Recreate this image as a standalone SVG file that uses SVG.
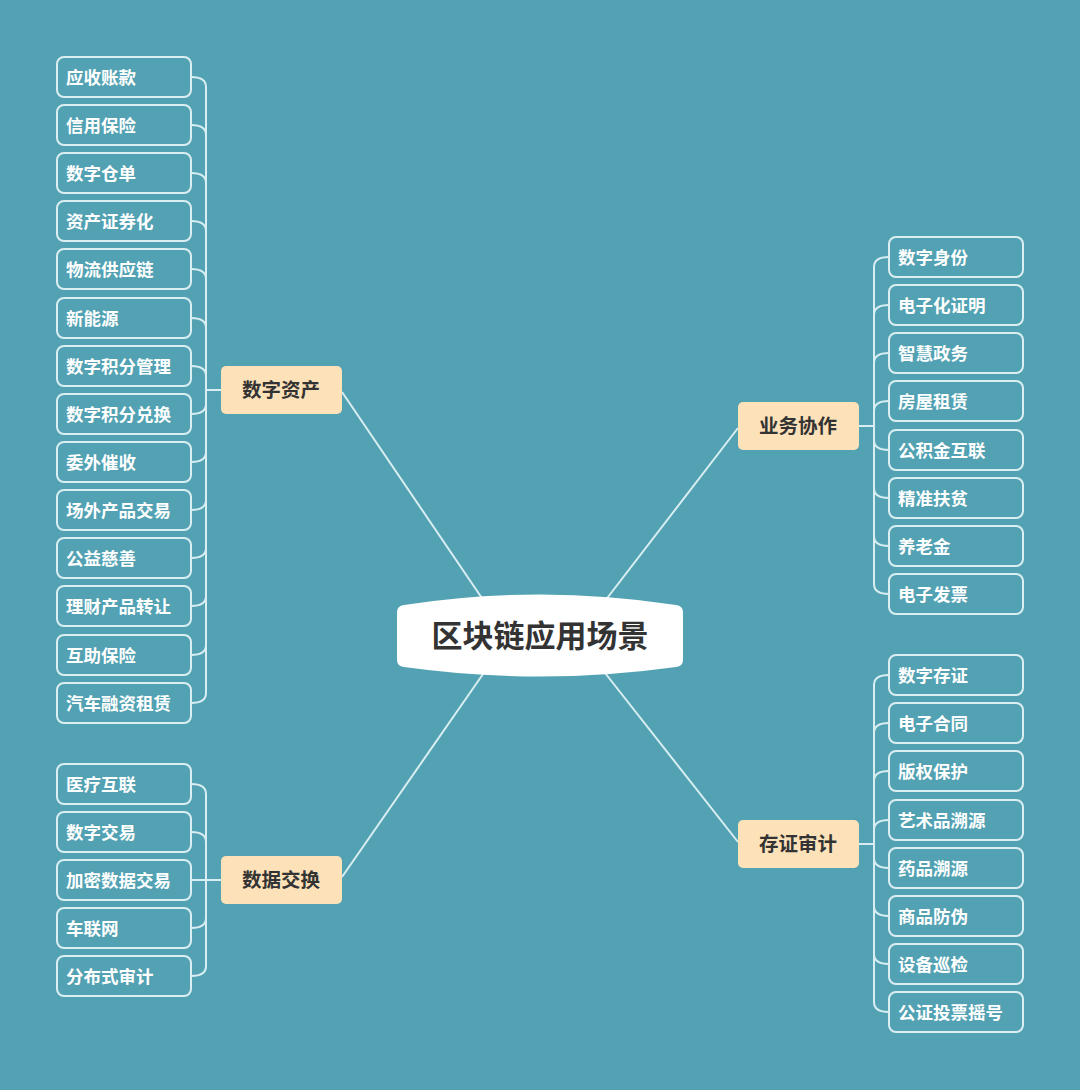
<svg xmlns="http://www.w3.org/2000/svg" width="1080" height="1090" viewBox="0 0 1080 1090">
<style>
.leaf rect{fill:#52a2b3;stroke:#dbeff3;stroke-width:2}
.leaf text{fill:#ffffff;font-family:"Noto Sans CJK SC","Noto Sans",sans-serif;font-weight:bold;font-size:17.5px}
.branch rect{fill:#fde2b9}
.branch text{fill:#333333;font-family:"Noto Sans CJK SC","Noto Sans",sans-serif;font-weight:bold;font-size:19.5px;text-anchor:middle}
.conn path,.conn line{fill:none;stroke:#d8eef2;stroke-width:2}
</style>
<rect x="0" y="0" width="1080" height="1090" fill="#52a2b3"/>
<g id="connectors" class="conn">
<line x1="342" y1="392" x2="490" y2="610"/>
<line x1="738" y1="428" x2="598" y2="610"/>
<line x1="342" y1="877" x2="490" y2="664"/>
<line x1="738" y1="842" x2="598" y2="664"/>
<!-- left top bracket -->
<path d="M191,77 Q206,77 206,87 V693 Q206,703 191,703"/>
<path d="M191,125 Q206,125 206,135"/>
<path d="M191,173 Q206,173 206,183"/>
<path d="M191,221 Q206,221 206,231"/>
<path d="M191,269 Q206,269 206,279"/>
<path d="M191,318 Q206,318 206,328"/>
<path d="M191,366 Q206,366 206,376"/>
<path d="M191,414 Q206,414 206,404"/>
<path d="M191,462 Q206,462 206,452"/>
<path d="M191,510 Q206,510 206,500"/>
<path d="M191,558 Q206,558 206,548"/>
<path d="M191,606 Q206,606 206,596"/>
<path d="M191,655 Q206,655 206,645"/>
<path d="M206,390 H221"/>
<!-- left bottom bracket -->
<path d="M191,784 Q206,784 206,794 V966 Q206,976 191,976"/>
<path d="M191,832 Q206,832 206,842"/>
<path d="M191,880 H221"/>
<path d="M191,928 Q206,928 206,918"/>
<!-- right top bracket -->
<path d="M889,257 Q874,257 874,267 V584 Q874,594 889,594"/>
<path d="M889,305 Q874,305 874,315"/>
<path d="M889,353 Q874,353 874,363"/>
<path d="M889,401 Q874,401 874,411"/>
<path d="M889,450 Q874,450 874,440"/>
<path d="M889,498 Q874,498 874,488"/>
<path d="M889,546 Q874,546 874,536"/>
<path d="M874,426 H858"/>
<!-- right bottom bracket -->
<path d="M889,675 Q874,675 874,685 V1002 Q874,1012 889,1012"/>
<path d="M889,723 Q874,723 874,733"/>
<path d="M889,771 Q874,771 874,781"/>
<path d="M889,820 Q874,820 874,830"/>
<path d="M889,868 Q874,868 874,858"/>
<path d="M889,916 Q874,916 874,906"/>
<path d="M889,964 Q874,964 874,954"/>
<path d="M874,844 H858"/>
</g>
<g id="center">
<path d="M397,612 Q397,606 404,605 Q540,584 676,605 Q683,606 683,612 V660 Q683,666 676,667 Q540,686 404,667 Q397,666 397,660 Z" fill="#ffffff"/>
<text x="540" y="647" fill="#333333" font-family="'Noto Sans CJK SC','Noto Sans',sans-serif" font-weight="bold" font-size="31" text-anchor="middle">区块链应用场景</text>
</g>
<g id="b-shuzizichan" class="branch"><rect x="221" y="366" width="121" height="48" rx="5"/><text x="281" y="397">数字资产</text></g>
<g id="b-shujujiaohuan" class="branch"><rect x="221" y="856" width="121" height="48" rx="5"/><text x="281" y="887">数据交换</text></g>
<g id="b-yewuxiezuo" class="branch"><rect x="738" y="402" width="121" height="48" rx="5"/><text x="798" y="433">业务协作</text></g>
<g id="b-cunzhengshenji" class="branch"><rect x="738" y="820" width="121" height="48" rx="5"/><text x="798" y="851">存证审计</text></g>
<g id="l1" class="leaf"><rect x="57" y="57" width="134" height="40" rx="7"/><text x="66" y="83.5">应收账款</text></g>
<g id="l2" class="leaf"><rect x="57" y="105" width="134" height="40" rx="7"/><text x="66" y="131.5">信用保险</text></g>
<g id="l3" class="leaf"><rect x="57" y="153" width="134" height="40" rx="7"/><text x="66" y="179.5">数字仓单</text></g>
<g id="l4" class="leaf"><rect x="57" y="201" width="134" height="40" rx="7"/><text x="66" y="227.5">资产证券化</text></g>
<g id="l5" class="leaf"><rect x="57" y="249" width="134" height="40" rx="7"/><text x="66" y="275.5">物流供应链</text></g>
<g id="l6" class="leaf"><rect x="57" y="298" width="134" height="40" rx="7"/><text x="66" y="324.5">新能源</text></g>
<g id="l7" class="leaf"><rect x="57" y="346" width="134" height="40" rx="7"/><text x="66" y="372.5">数字积分管理</text></g>
<g id="l8" class="leaf"><rect x="57" y="394" width="134" height="40" rx="7"/><text x="66" y="420.5">数字积分兑换</text></g>
<g id="l9" class="leaf"><rect x="57" y="442" width="134" height="40" rx="7"/><text x="66" y="468.5">委外催收</text></g>
<g id="l10" class="leaf"><rect x="57" y="490" width="134" height="40" rx="7"/><text x="66" y="516.5">场外产品交易</text></g>
<g id="l11" class="leaf"><rect x="57" y="538" width="134" height="40" rx="7"/><text x="66" y="564.5">公益慈善</text></g>
<g id="l12" class="leaf"><rect x="57" y="586" width="134" height="40" rx="7"/><text x="66" y="612.5">理财产品转让</text></g>
<g id="l13" class="leaf"><rect x="57" y="635" width="134" height="40" rx="7"/><text x="66" y="661.5">互助保险</text></g>
<g id="l14" class="leaf"><rect x="57" y="683" width="134" height="40" rx="7"/><text x="66" y="709.5">汽车融资租赁</text></g>
<g id="d1" class="leaf"><rect x="57" y="764" width="134" height="40" rx="7"/><text x="66" y="790.5">医疗互联</text></g>
<g id="d2" class="leaf"><rect x="57" y="812" width="134" height="40" rx="7"/><text x="66" y="838.5">数字交易</text></g>
<g id="d3" class="leaf"><rect x="57" y="860" width="134" height="40" rx="7"/><text x="66" y="886.5">加密数据交易</text></g>
<g id="d4" class="leaf"><rect x="57" y="908" width="134" height="40" rx="7"/><text x="66" y="934.5">车联网</text></g>
<g id="d5" class="leaf"><rect x="57" y="956" width="134" height="40" rx="7"/><text x="66" y="982.5">分布式审计</text></g>
<g id="r1" class="leaf"><rect x="889" y="237" width="134" height="40" rx="7"/><text x="898" y="263.5">数字身份</text></g>
<g id="r2" class="leaf"><rect x="889" y="285" width="134" height="40" rx="7"/><text x="898" y="311.5">电子化证明</text></g>
<g id="r3" class="leaf"><rect x="889" y="333" width="134" height="40" rx="7"/><text x="898" y="359.5">智慧政务</text></g>
<g id="r4" class="leaf"><rect x="889" y="381" width="134" height="40" rx="7"/><text x="898" y="407.5">房屋租赁</text></g>
<g id="r5" class="leaf"><rect x="889" y="430" width="134" height="40" rx="7"/><text x="898" y="456.5">公积金互联</text></g>
<g id="r6" class="leaf"><rect x="889" y="478" width="134" height="40" rx="7"/><text x="898" y="504.5">精准扶贫</text></g>
<g id="r7" class="leaf"><rect x="889" y="526" width="134" height="40" rx="7"/><text x="898" y="552.5">养老金</text></g>
<g id="r8" class="leaf"><rect x="889" y="574" width="134" height="40" rx="7"/><text x="898" y="600.5">电子发票</text></g>
<g id="s1" class="leaf"><rect x="889" y="655" width="134" height="40" rx="7"/><text x="898" y="681.5">数字存证</text></g>
<g id="s2" class="leaf"><rect x="889" y="703" width="134" height="40" rx="7"/><text x="898" y="729.5">电子合同</text></g>
<g id="s3" class="leaf"><rect x="889" y="751" width="134" height="40" rx="7"/><text x="898" y="777.5">版权保护</text></g>
<g id="s4" class="leaf"><rect x="889" y="800" width="134" height="40" rx="7"/><text x="898" y="826.5">艺术品溯源</text></g>
<g id="s5" class="leaf"><rect x="889" y="848" width="134" height="40" rx="7"/><text x="898" y="874.5">药品溯源</text></g>
<g id="s6" class="leaf"><rect x="889" y="896" width="134" height="40" rx="7"/><text x="898" y="922.5">商品防伪</text></g>
<g id="s7" class="leaf"><rect x="889" y="944" width="134" height="40" rx="7"/><text x="898" y="970.5">设备巡检</text></g>
<g id="s8" class="leaf"><rect x="889" y="992" width="134" height="40" rx="7"/><text x="898" y="1018.5">公证投票摇号</text></g>
</svg>
